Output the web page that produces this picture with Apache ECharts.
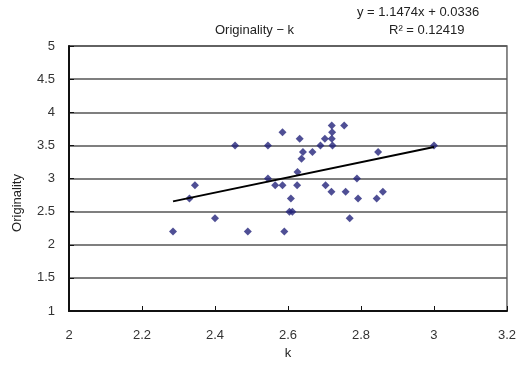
<!DOCTYPE html>
<html>
<head>
<meta charset="utf-8">
<script src="https://cdn.jsdelivr.net/npm/echarts@6/dist/echarts.min.js"></script>
<style>
  html, body { margin: 0; padding: 0; background: #fff; }
  #chart { width: 519px; height: 367px; }
</style>
</head>
<body>
<div id="chart"></div>
<script>
// values
const kValues = [2.285, 2.33, 2.345, 2.40, 2.455, 2.49, 2.545, 2.545, 2.565, 2.585,
  2.585, 2.59, 2.604, 2.612, 2.608, 2.625, 2.626, 2.632, 2.637, 2.641,
  2.667, 2.689, 2.701, 2.703, 2.72, 2.721, 2.72, 2.722, 2.719, 2.754,
  2.758, 2.769, 2.789, 2.792, 2.843, 2.847, 2.86, 3.0]
const originality = [2.2, 2.7, 2.9, 2.4, 3.5, 2.2, 3.5, 3.0, 2.9, 3.7,
  2.9, 2.2, 2.5, 2.5, 2.7, 2.9, 3.1, 3.6, 3.3, 3.4,
  3.4, 3.5, 3.6, 2.9, 3.8, 3.7, 3.6, 3.5, 2.8, 3.8,
  2.8, 2.4, 3.0, 2.7, 2.7, 3.4, 2.8, 3.5]

// linear trend y = 1.1474x + 0.0336, drawn from first to last k
const trendX = [2.285, 3.0]
const trendY = [2.655, 3.476]

const xTicks = { min: 2, max: 3.2, step: 0.2 }
const yTicks = { min: 1, max: 5, step: 0.5 }

const font = '"Liberation Sans", Arial, sans-serif'
const points = kValues.map((k, i) => [k, originality[i]])
const trend = trendX.map((x, i) => [x, trendY[i]])

const chart = echarts.init(document.getElementById('chart'))
chart.setOption({
  backgroundColor: '#fff',
  animation: false,
  textStyle: { fontFamily: font },
  grid: {
    left: 69, top: 46, width: 440, height: 265,
    show: true, borderColor: '#666', borderWidth: 1.5
  },
  graphic: [
    {
      type: 'text', left: 215, top: 24,
      style: { text: 'Originality − k', font: '13px ' + font, fill: '#222' }
    },
    {
      type: 'text', left: 357, top: 6,
      style: { text: 'y = 1.1474x + 0.0336', font: '13px ' + font, fill: '#222' }
    },
    {
      type: 'text', left: 389, top: 24,
      style: { text: 'R² = 0.12419', font: '13px ' + font, fill: '#222' }
    },
    {
      type: 'text', x: 17, y: 203, rotation: Math.PI / 2,
      style: {
        text: 'Originality', font: '13px ' + font, fill: '#222',
        align: 'center', verticalAlign: 'middle'
      }
    }
  ],
  xAxis: {
    type: 'value',
    min: xTicks.min, max: xTicks.max, interval: xTicks.step,
    name: 'k', nameLocation: 'middle', nameGap: 36,
    nameTextStyle: { fontSize: 13, color: '#222', fontFamily: font },
    axisLine: { show: true, onZero: false, lineStyle: { color: '#111', width: 2 } },
    axisTick: { show: true, inside: true, length: 5, lineStyle: { color: '#111' } },
    axisLabel: { fontSize: 13, color: '#333', margin: 18, fontFamily: font },
    splitLine: { show: false }
  },
  yAxis: {
    type: 'value',
    min: yTicks.min, max: yTicks.max, interval: yTicks.step,
    axisLine: { show: true, onZero: false, lineStyle: { color: '#111', width: 2 } },
    axisTick: { show: true, inside: true, length: 5, lineStyle: { color: '#111' } },
    axisLabel: { fontSize: 13, color: '#333', margin: 14, fontFamily: font },
    splitLine: { show: true, lineStyle: { color: '#555', width: 1.5 } }
  },
  series: [
    {
      type: 'scatter',
      data: points,
      symbol: 'diamond',
      symbolSize: 8,
      itemStyle: { color: '#23237a' },
      z: 3
    },
    {
      type: 'line',
      data: trend,
      showSymbol: false,
      symbol: 'none',
      lineStyle: { color: '#000', width: 2 },
      z: 4
    }
  ]
})
</script>
</body>
</html>
